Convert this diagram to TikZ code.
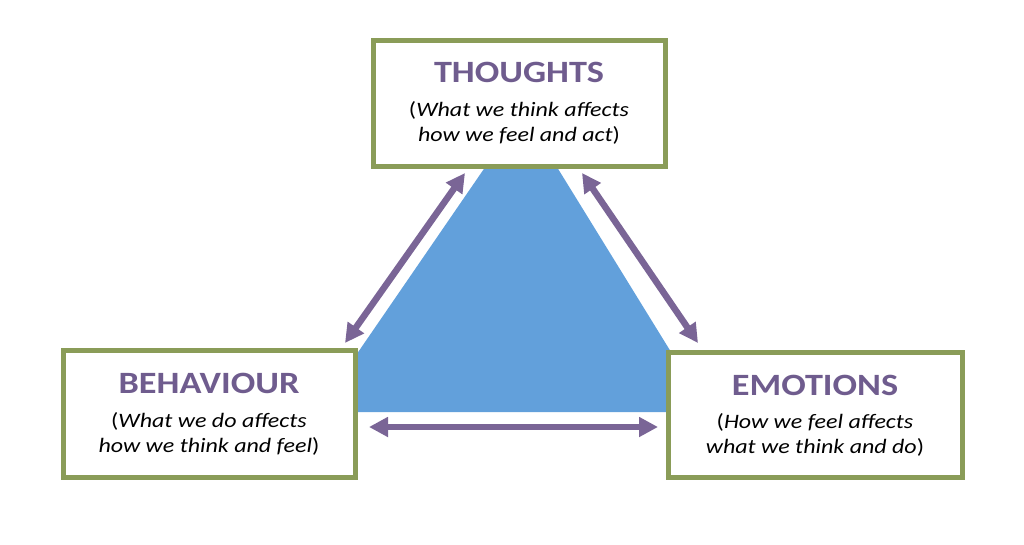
\documentclass[tikz,border=0pt]{standalone}
\usepackage{fontspec}
\setmainfont[FakeStretch=1.17]{Carlito}
\usetikzlibrary{arrows.meta}
\definecolor{boxgreen}{HTML}{8A9C58}
\definecolor{arrpurple}{HTML}{7A6596}
\definecolor{titlepurple}{HTML}{6F5C8E}
\definecolor{triblue}{HTML}{62A0DB}
\begin{document}
\begin{tikzpicture}[x=1pt,y=-1pt,
  box/.style={draw=boxgreen,line width=5pt,fill=white,inner sep=0pt},
  ttl/.style={anchor=base,font=\fontsize{31}{31}\selectfont\bfseries,text=titlepurple,inner sep=0pt},
  sub/.style={anchor=base,font=\fontsize{20.5}{25}\selectfont,inner sep=0pt},
  biarrow/.style={draw=arrpurple,line width=6.5pt,{Triangle[length=19pt,width=19pt]}-{Triangle[length=19pt,width=19pt]}}]
\useasboundingbox (0,0) rectangle (1024,545);
% triangle
\fill[triblue] (523,112) -- (708,412) -- (317,412) -- cycle;
% boxes
\node[box,minimum width=292pt,minimum height=126pt] (thoughts) at (519,104) {};
\node[box,minimum width=292pt,minimum height=127pt] (behaviour) at (209,413.5) {};
\node[box,minimum width=294pt,minimum height=125pt] (emotions) at (815,414.5) {};
% texts
\node[ttl] (tt) at (519,83) {THOUGHTS};
\node[sub] (ts1) at (519,117) {(\textit{What we think affects}};
\node[sub] (ts2) at (519,142) {\textit{how we feel and act})};
\node[ttl] (bt) at (209,393) {BEHAVIOUR};
\node[sub] (bs1) at (209,427) {(\textit{What we do affects}};
\node[sub] (bs2) at (209,452) {\textit{how we think and feel})};
\node[ttl] (et) at (815,395) {EMOTIONS};
\node[sub] (es1) at (815,428) {(\textit{How we feel affects}};
\node[sub] (es2) at (815,453) {\textit{what we think and do})};
% arrows
\coordinate (a1) at (465,173); \coordinate (a2) at (345,343);
\coordinate (b1) at (582,173); \coordinate (b2) at (698,343);
\coordinate (c1) at (369,427); \coordinate (c2) at (658,427);
\draw[biarrow] (a1) -- (a2);
\draw[biarrow] (b1) -- (b2);
\draw[biarrow] (c1) -- (c2);
\end{tikzpicture}
\end{document}
